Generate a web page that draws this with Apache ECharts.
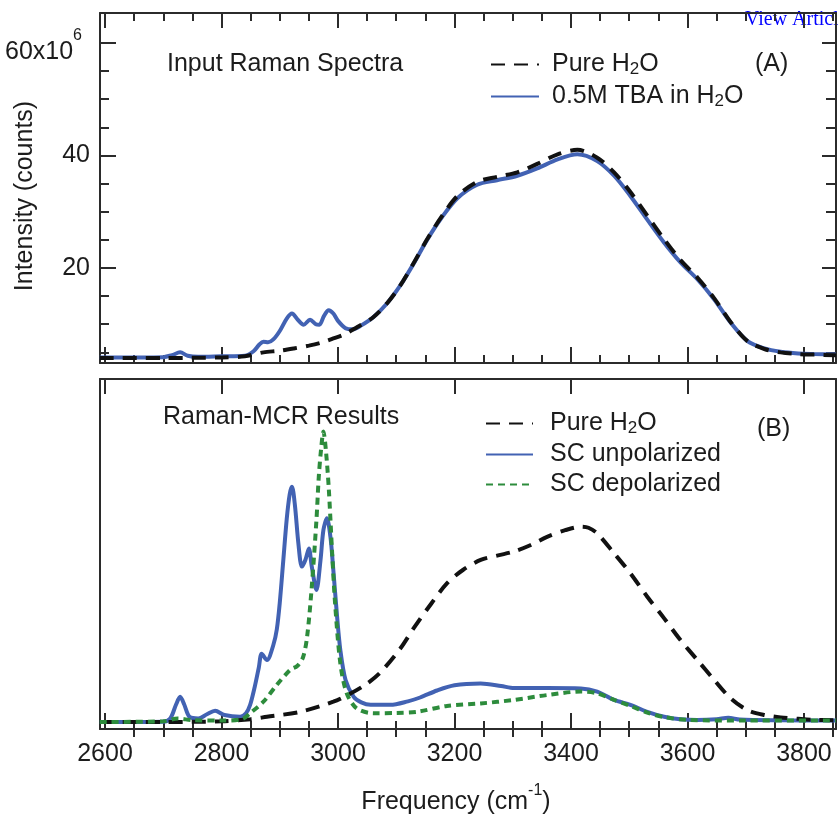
<!DOCTYPE html>
<html><head><meta charset="utf-8">
<script src="https://cdn.jsdelivr.net/npm/echarts@6/dist/echarts.min.js"></script>
<style>html,body{margin:0;padding:0;background:#fff}#c{width:838px;height:814px}</style>
</head><body><div id="c"></div>
<script>
// ---------- data ----------
const freqMajorTicks = [2600, 2800, 3000, 3200, 3400, 3600, 3800];
const freqMinorTicks = [2650, 2700, 2750, 2850, 2900, 2950, 3050, 3100, 3150, 3250, 3300, 3350, 3450, 3500, 3550, 3650, 3700, 3750, 3850];
const intensityMajorTicks = [20, 40, 60];
const intensityMinorTicks = [5, 10, 15, 25, 30, 35, 45, 50, 55];

// Panel A: input spectra (x10^6 counts)
const tbaFreq = [2591, 2620, 2660, 2700, 2715, 2729, 2742, 2760, 2800, 2840, 2855, 2865, 2872, 2880, 2889, 2900, 2912, 2921, 2931, 2941, 2952, 2962, 2968, 2976, 2984, 2992, 3000, 3013, 3025, 3040, 3060, 3084, 3107, 3130, 3153, 3179, 3205, 3239, 3273, 3308, 3342, 3377, 3411, 3445, 3474, 3502, 3531, 3560, 3588, 3617, 3646, 3674, 3703, 3732, 3760, 3790, 3817, 3855];
const tbaValues = [4.1, 4.1, 4.1, 4.15, 4.5, 5.0, 4.4, 4.2, 4.3, 4.4, 5.2, 6.4, 6.9, 6.8, 7.3, 8.8, 11.0, 11.9, 10.8, 9.9, 10.8, 10.0, 9.9, 11.5, 12.5, 11.9, 10.6, 9.3, 9.1, 9.8, 11.2, 13.7, 16.9, 20.8, 25.0, 29.1, 32.4, 34.8, 35.6, 36.4, 37.7, 39.3, 40.2, 39.0, 36.4, 32.8, 28.6, 24.5, 21.0, 18.0, 14.4, 10.3, 7.0, 5.7, 5.1, 4.8, 4.7, 4.6];
const waterFreqA = [2591, 2700, 2800, 2840, 2872, 2900, 2924, 2950, 2970, 2990, 3011, 3030, 3060, 3084, 3107, 3130, 3153, 3179, 3205, 3239, 3273, 3308, 3342, 3377, 3411, 3445, 3474, 3502, 3531, 3560, 3588, 3617, 3646, 3674, 3703, 3732, 3760, 3790, 3817, 3855];
const waterValuesA = [4.0, 4.0, 4.1, 4.3, 5.0, 5.3, 5.7, 6.2, 6.7, 7.4, 8.2, 9.3, 11.2, 13.7, 16.9, 20.9, 25.1, 29.3, 32.8, 35.3, 36.2, 37.0, 38.5, 40.2, 41.0, 39.6, 37.0, 33.5, 29.3, 25.1, 21.4, 18.3, 14.6, 10.4, 7.0, 5.6, 5.0, 4.7, 4.6, 4.5];

// Panel B: Raman-MCR results (arbitrary units)
const waterFreqB = [2591, 2700, 2800, 2850, 2878, 2935, 2992, 3020, 3050, 3073, 3107, 3130, 3160, 3187, 3215, 3245, 3275, 3302, 3330, 3359, 3390, 3417, 3430, 3445, 3474, 3502, 3531, 3560, 3588, 3617, 3646, 3674, 3703, 3732, 3760, 3790, 3817, 3855];
const waterValuesB = [2.0, 2.0, 2.2, 2.8, 3.5, 4.9, 7.8, 10.0, 13.0, 16.2, 23.0, 28.8, 35.8, 41.6, 45.5, 48.3, 49.6, 50.7, 52.5, 54.9, 56.8, 57.8, 57.5, 55.9, 50.2, 44.5, 37.8, 31.6, 25.4, 19.7, 14.0, 8.8, 5.4, 4.0, 3.3, 2.9, 2.6, 2.5];
const unpolFreq = [2591, 2700, 2712, 2722, 2729, 2736, 2745, 2760, 2775, 2789, 2805, 2832, 2842, 2849, 2857, 2864, 2869, 2878, 2889, 2895, 2900, 2906, 2912, 2917, 2921, 2926, 2932, 2938, 2944, 2950, 2955, 2963, 2970, 2975, 2981, 2987, 2992, 2998, 3004, 3013, 3027, 3040, 3056, 3090, 3120, 3141, 3170, 3200, 3245, 3280, 3302, 3359, 3417, 3445, 3474, 3502, 3531, 3560, 3588, 3617, 3650, 3670, 3690, 3760, 3855];
const unpolValues = [2.0, 2.1, 3.0, 7.0, 9.2, 7.0, 3.5, 3.0, 4.2, 5.2, 4.0, 3.5, 4.5, 6.8, 12.0, 17.5, 21.5, 19.7, 24.0, 28.5, 36.0, 48.0, 60.0, 67.0, 69.2, 64.0, 53.0, 46.4, 48.3, 51.6, 46.4, 39.7, 48.3, 56.9, 60.2, 54.9, 45.4, 33.0, 22.6, 14.0, 9.2, 7.6, 6.9, 6.9, 7.9, 9.0, 11.0, 12.5, 13.0, 12.3, 11.7, 11.7, 11.6, 10.7, 8.3, 6.9, 4.9, 3.5, 2.8, 2.6, 2.8, 3.2, 2.7, 2.5, 2.4];
const depolFreq = [2591, 2700, 2725, 2750, 2800, 2835, 2849, 2872, 2895, 2918, 2930, 2940, 2947, 2955, 2963, 2967, 2971, 2975, 2979, 2984, 2990, 2995, 3004, 3015, 3032, 3061, 3100, 3136, 3187, 3245, 3302, 3359, 3417, 3445, 3474, 3502, 3531, 3560, 3600, 3700, 3855];
const depolValues = [2.0, 2.2, 3.0, 2.5, 2.4, 2.8, 4.5, 7.8, 12.6, 16.9, 18.0, 20.5, 26.4, 40.7, 59.7, 72.0, 80.0, 85.0, 80.0, 69.2, 50.2, 35.9, 18.8, 10.2, 5.9, 4.5, 4.6, 4.9, 6.6, 7.3, 8.3, 9.7, 10.7, 10.2, 8.3, 6.6, 4.7, 3.4, 2.6, 2.4, 2.4];

// ---------- chart ----------
const FONT = "'Liberation Sans', Arial, Helvetica, sans-serif";
const TXT = '#1c1c1c';
const AXC = '#2b2b2b';
const BLUE = '#4262b3';
const GREEN = '#2d8c3c';
const BLACK = '#111111';
const XMIN = 2591.4, XMAX = 3855;
const YMIN_A = 3.11, YMAX_A = 65.33;

const pairs = (xs, ys) => xs.map((x, i) => [x, ys[i]]);
const lineSt = { color: AXC, width: 2 };

function xAxes(grid, withLabels) {
  const base = { gridIndex: grid, type: 'value', min: XMIN, max: XMAX, splitLine: { show: false } };
  return [
    Object.assign({}, base, { position: 'bottom', axisLine: { show: true, onZero: false, lineStyle: lineSt },
      axisTick: { show: true, inside: true, length: 16, customValues: freqMajorTicks, lineStyle: lineSt },
      axisLabel: withLabels ? { show: true, customValues: freqMajorTicks, formatter: v => String(v), fontSize: 25, fontFamily: FONT, color: TXT, margin: 13 } : { show: false },
      name: withLabels ? 'Frequency (cm{sup|-1})' : '', nameLocation: 'middle', nameGap: 54,
      nameTextStyle: { fontSize: 25, fontFamily: FONT, color: TXT, padding: [0, 24, 0, 0],
        rich: { sup: { fontSize: 16, fontFamily: FONT, color: TXT, padding: [0, 0, 22, 0] } } } }),
    Object.assign({}, base, { position: 'bottom', axisLine: { show: false },
      axisTick: { show: true, inside: true, length: 8, customValues: freqMinorTicks, lineStyle: lineSt }, axisLabel: { show: false } }),
    Object.assign({}, base, { position: 'top', axisLine: { show: true, onZero: false, lineStyle: lineSt },
      axisTick: { show: true, inside: true, length: 15, customValues: freqMajorTicks, lineStyle: lineSt }, axisLabel: { show: false } }),
    Object.assign({}, base, { position: 'top', axisLine: { show: false },
      axisTick: { show: true, inside: true, length: 8, customValues: freqMinorTicks, lineStyle: lineSt }, axisLabel: { show: false } })
  ];
}

const subRich = { sub: { fontSize: 17, fontFamily: FONT, color: TXT, padding: [10, 0, 0, 0] } };
const legendFmt = n => n.replace('H2O', 'H{sub|2}O');
const noSymbol = { color: 'rgba(0,0,0,0)', borderColor: 'rgba(0,0,0,0)', borderWidth: 0, opacity: 0 };

const option = {
  backgroundColor: '#ffffff',
  animation: false,
  grid: [
    { left: 100, top: 13, width: 736, height: 350, outerBoundsMode: 'none', containLabel: false },
    { left: 100, top: 379, width: 736, height: 350, outerBoundsMode: 'none', containLabel: false }
  ],
  xAxis: [].concat(xAxes(0, false), xAxes(1, true)),
  yAxis: [
    { gridIndex: 0, type: 'value', position: 'left', min: YMIN_A, max: YMAX_A, splitLine: { show: false },
      axisLine: { show: true, onZero: false, lineStyle: lineSt },
      axisTick: { show: true, inside: true, length: 16, customValues: intensityMajorTicks, lineStyle: lineSt },
      axisLabel: { show: true, customValues: intensityMajorTicks, margin: 10, fontSize: 25, fontFamily: FONT, color: TXT,
        formatter: v => v === 60 ? '{a|60x10}{s|6}' : String(v),
        rich: { a: { fontSize: 25, fontFamily: FONT, color: TXT, padding: [19, 0, 0, 0] },
                s: { fontSize: 16, fontFamily: FONT, color: TXT, padding: [0, 8, 14, 0] } } },
      name: 'Intensity (counts)', nameLocation: 'middle', nameGap: 62, nameMoveOverlap: false,
      nameTextStyle: { fontSize: 25, fontFamily: FONT, color: TXT, padding: [0, 16, 0, 0] } },
    { gridIndex: 0, type: 'value', position: 'left', min: YMIN_A, max: YMAX_A, splitLine: { show: false },
      axisLine: { show: false },
      axisTick: { show: true, inside: true, length: 9, customValues: intensityMinorTicks, lineStyle: lineSt },
      axisLabel: { show: false } },
    { gridIndex: 0, type: 'value', position: 'right', min: YMIN_A, max: YMAX_A, splitLine: { show: false },
      axisLine: { show: true, onZero: false, lineStyle: lineSt },
      axisTick: { show: true, inside: true, length: 14, customValues: intensityMajorTicks, lineStyle: lineSt },
      axisLabel: { show: false } },
    { gridIndex: 0, type: 'value', position: 'right', min: YMIN_A, max: YMAX_A, splitLine: { show: false },
      axisLine: { show: false },
      axisTick: { show: true, inside: true, length: 10, customValues: intensityMinorTicks, lineStyle: lineSt },
      axisLabel: { show: false } },
    { gridIndex: 1, type: 'value', position: 'left', min: 0, max: 100, splitLine: { show: false },
      axisLine: { show: true, onZero: false, lineStyle: lineSt }, axisTick: { show: false }, axisLabel: { show: false } },
    { gridIndex: 1, type: 'value', position: 'right', min: 0, max: 100, splitLine: { show: false },
      axisLine: { show: true, onZero: false, lineStyle: lineSt }, axisTick: { show: false }, axisLabel: { show: false } }
  ],
  legend: [
    { data: ['Pure H2O', '0.5M TBA in H2O'], orient: 'vertical', left: 485, top: 47, itemWidth: 48, itemHeight: 20, itemGap: 6,
      formatter: legendFmt, selectedMode: false, itemStyle: noSymbol,
      textStyle: { fontSize: 25, fontFamily: FONT, color: TXT, padding: [0, 0, 0, 8], rich: subRich } },
    { data: ['Pure H2O', 'SC unpolarized', 'SC depolarized'], orient: 'vertical', left: 480, top: 406, itemWidth: 47, itemHeight: 20, itemGap: 5,
      formatter: legendFmt, selectedMode: false, itemStyle: noSymbol,
      textStyle: { fontSize: 25, fontFamily: FONT, color: TXT, padding: [0, 0, 0, 12], rich: subRich } }
  ],
  series: [
    { name: '0.5M TBA in H2O', type: 'line', xAxisIndex: 0, yAxisIndex: 0, data: pairs(tbaFreq, tbaValues),
      symbol: 'none', smooth: 0.3, lineStyle: { color: BLUE, width: 4 }, itemStyle: { color: BLUE } },
    { name: 'Pure H2O', type: 'line', xAxisIndex: 0, yAxisIndex: 0, data: pairs(waterFreqA, waterValuesA),
      symbol: 'none', smooth: 0.3, lineStyle: { color: BLACK, width: 4, type: [14, 9] }, itemStyle: { color: BLACK } },
    { name: 'SC unpolarized', type: 'line', xAxisIndex: 4, yAxisIndex: 4, data: pairs(unpolFreq, unpolValues),
      symbol: 'none', smooth: 0.3, lineStyle: { color: BLUE, width: 4 }, itemStyle: { color: BLUE } },
    { name: 'Pure H2O', type: 'line', xAxisIndex: 4, yAxisIndex: 4, data: pairs(waterFreqB, waterValuesB),
      symbol: 'none', smooth: 0.3, lineStyle: { color: BLACK, width: 4, type: [14, 9] }, itemStyle: { color: BLACK } },
    { name: 'SC depolarized', type: 'line', xAxisIndex: 4, yAxisIndex: 4, data: pairs(depolFreq, depolValues),
      symbol: 'none', smooth: 0.3, lineStyle: { color: GREEN, width: 4, type: [7, 5] }, itemStyle: { color: GREEN } }
  ],
  graphic: [
    { type: 'text', left: 167, top: 52, style: { text: 'Input Raman Spectra', fontSize: 25, fontFamily: FONT, fill: TXT } },
    { type: 'text', left: 755, top: 52, style: { text: '(A)', fontSize: 25, fontFamily: FONT, fill: TXT } },
    { type: 'text', left: 163, top: 405, style: { text: 'Raman-MCR Results', fontSize: 25, fontFamily: FONT, fill: TXT } },
    { type: 'text', left: 757, top: 417, style: { text: '(B)', fontSize: 25, fontFamily: FONT, fill: TXT } },
    { type: 'text', left: 745, top: 10, style: { text: 'View Article', fontSize: 20, fontFamily: "'Liberation Serif', 'Times New Roman', serif", fill: '#0000ff' } }
  ]
};

const chart = echarts.init(document.getElementById('c'), null, { renderer: 'canvas' });
chart.setOption(option);
</script>
</body></html>
